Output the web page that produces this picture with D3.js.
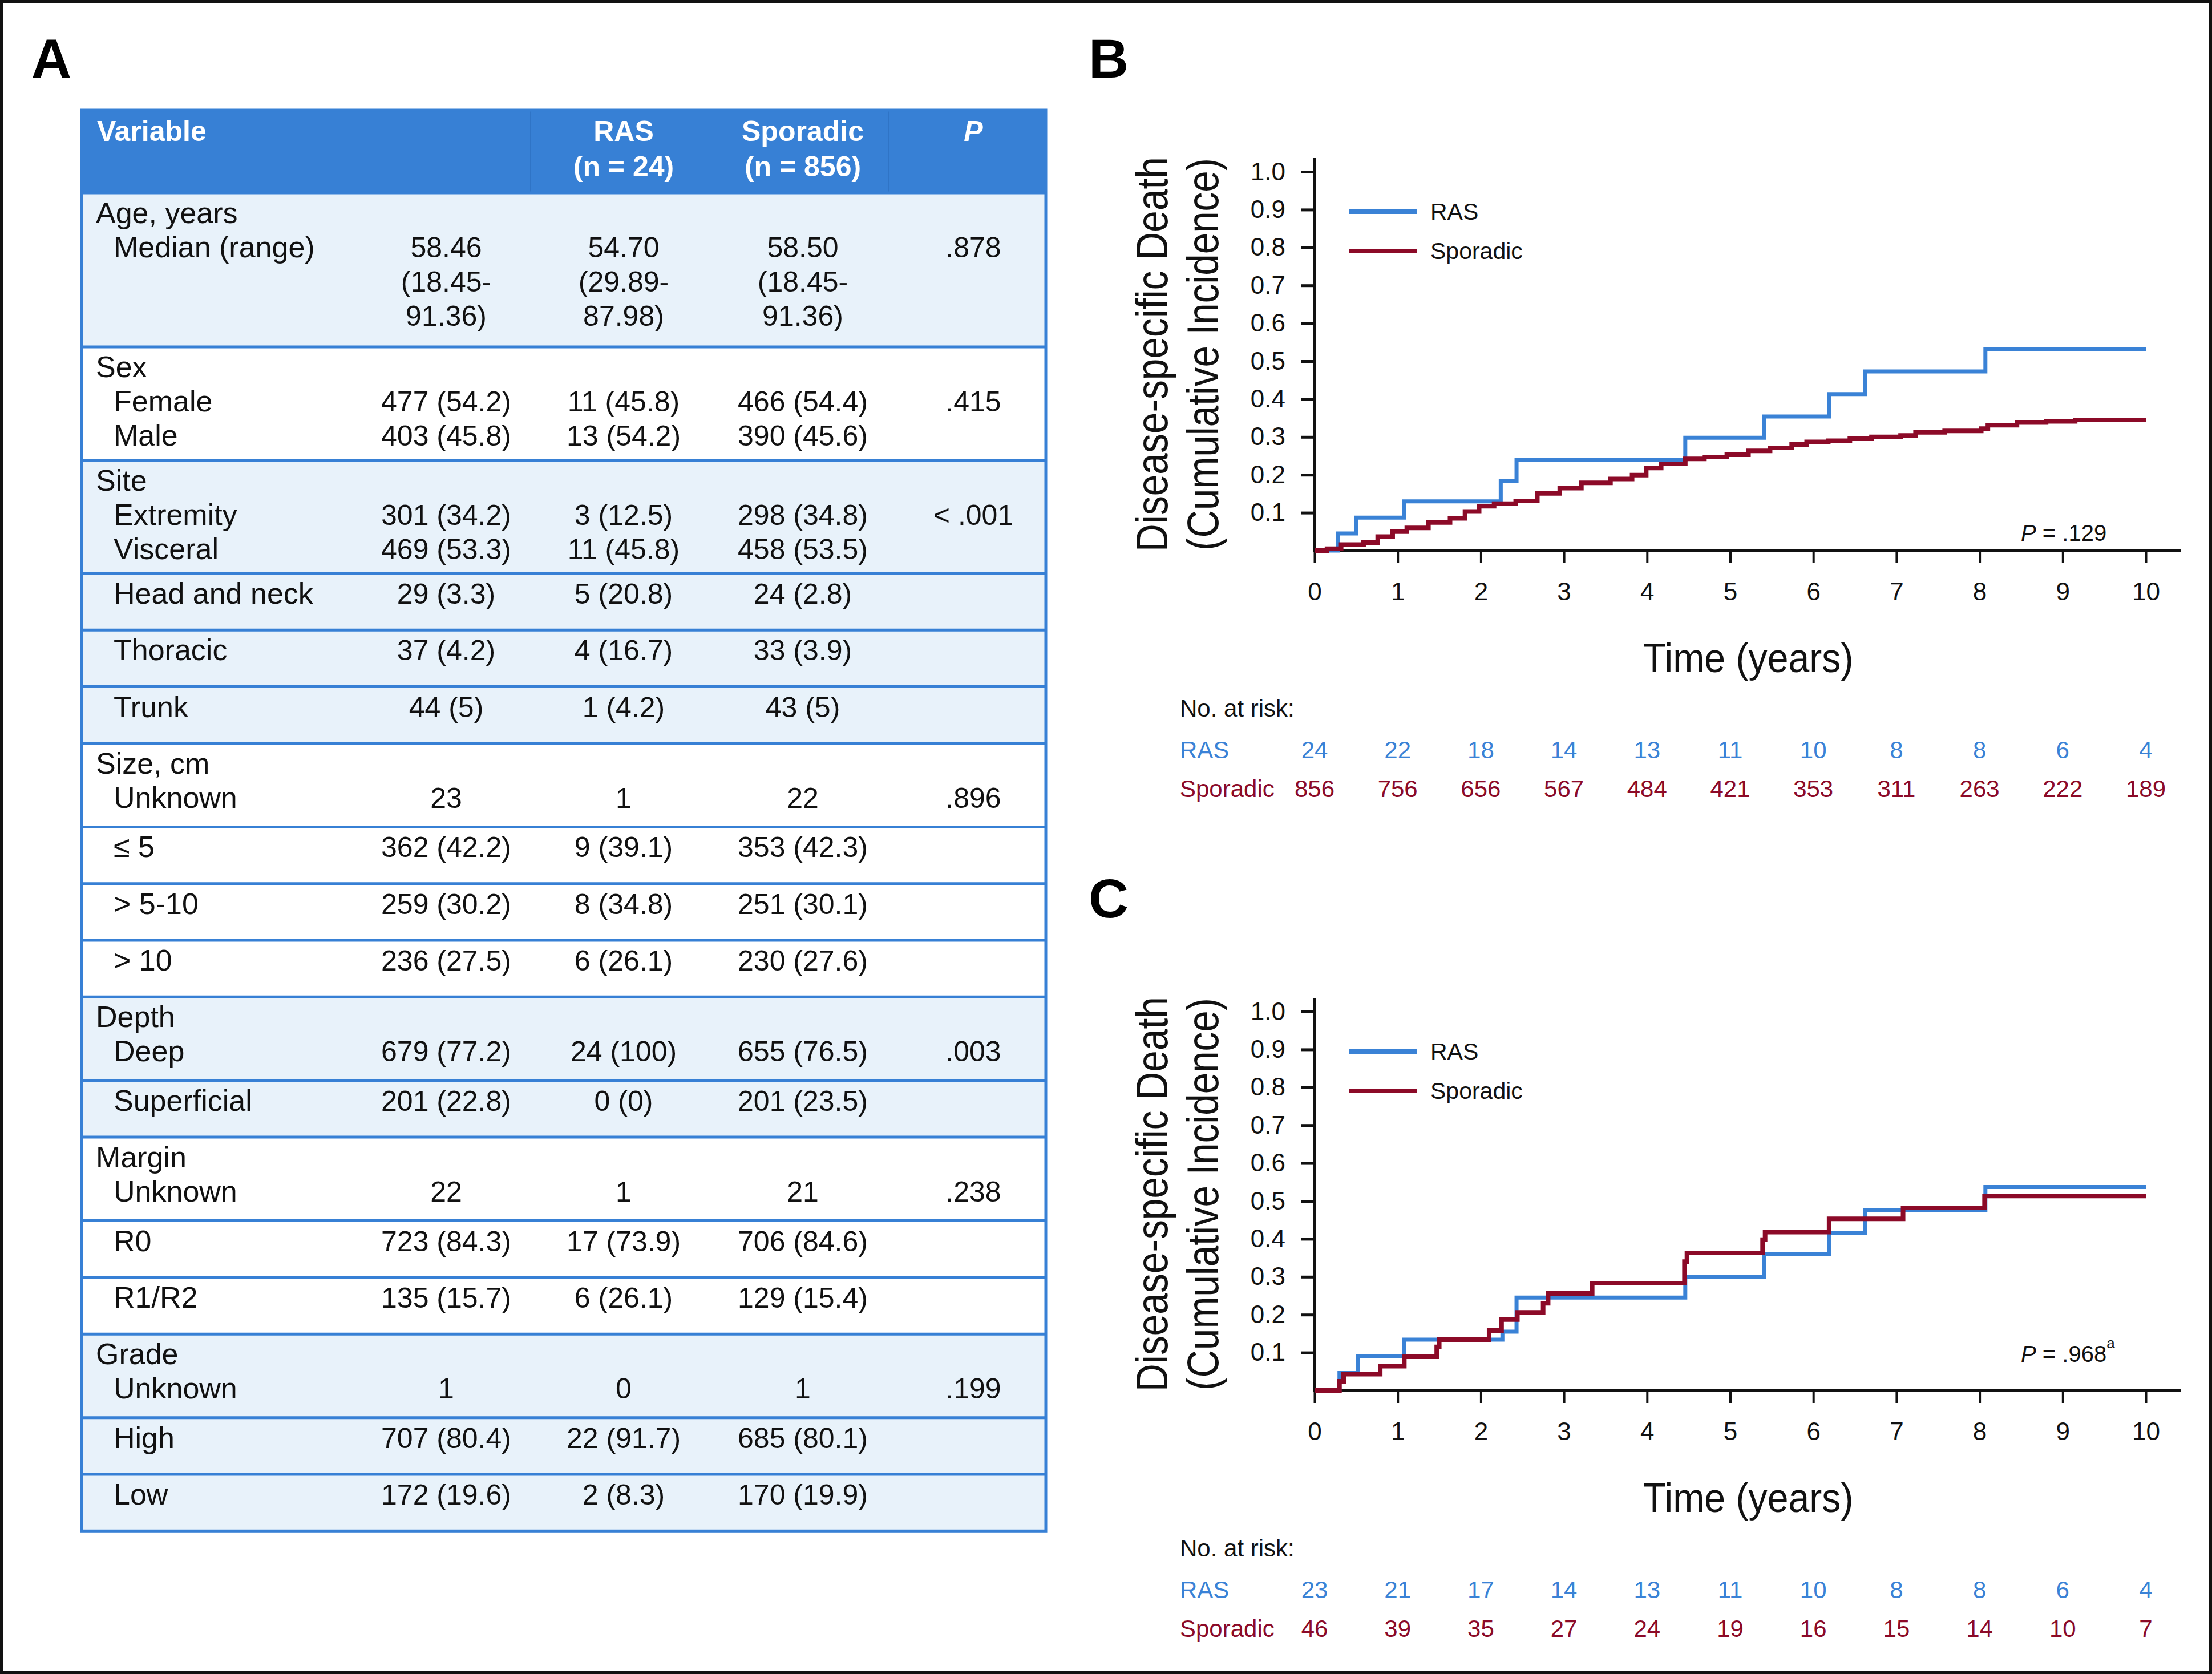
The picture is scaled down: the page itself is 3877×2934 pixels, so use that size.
<!DOCTYPE html>
<html>
<head>
    <meta charset="utf-8">
    <title>RAS vs sporadic sarcoma</title>
    <script src="https://d3js.org/d3.v7.min.js"></script>
</head>
<style>
    body { margin: 0; background: #fff; }
    text { font-family: "Liberation Sans", Arial, Helvetica, sans-serif; }
    .axis text { font-size: 44px; fill: #111; }
</style>
<body>
<script>

    // ---- table data (panel A) ----
    // leading spaces mark an indented sub-label
    var headerCols = [["RAS", "(n = 24)"], ["Sporadic", "(n = 856)"], ["P", ""]];

    var tableLabels = [
        ["Age, years", "  Median (range)"],
        ["Sex", "  Female", "  Male"],
        ["Site", "  Extremity", "  Visceral"],
        ["  Head and neck"],
        ["  Thoracic"],
        ["  Trunk"],
        ["Size, cm", "  Unknown"],
        ["  \u2264 5"],
        ["  > 5-10"],
        ["  > 10"],
        ["Depth", "  Deep"],
        ["  Superficial"],
        ["Margin", "  Unknown"],
        ["  R0"],
        ["  R1/R2"],
        ["Grade", "  Unknown"],
        ["  High"],
        ["  Low"]
    ];
    var overallCol = [
        ["", "58.46", "(18.45-", "91.36)"],
        ["", "477 (54.2)", "403 (45.8)"],
        ["", "301 (34.2)", "469 (53.3)"],
        ["29 (3.3)"], ["37 (4.2)"], ["44 (5)"],
        ["", "23"], ["362 (42.2)"], ["259 (30.2)"], ["236 (27.5)"],
        ["", "679 (77.2)"], ["201 (22.8)"],
        ["", "22"], ["723 (84.3)"], ["135 (15.7)"],
        ["", "1"], ["707 (80.4)"], ["172 (19.6)"]
    ];
    var rasCol = [
        ["", "54.70", "(29.89-", "87.98)"],
        ["", "11 (45.8)", "13 (54.2)"],
        ["", "3 (12.5)", "11 (45.8)"],
        ["5 (20.8)"], ["4 (16.7)"], ["1 (4.2)"],
        ["", "1"], ["9 (39.1)"], ["8 (34.8)"], ["6 (26.1)"],
        ["", "24 (100)"], ["0 (0)"],
        ["", "1"], ["17 (73.9)"], ["6 (26.1)"],
        ["", "0"], ["22 (91.7)"], ["2 (8.3)"]
    ];
    var sporadicCol = [
        ["", "58.50", "(18.45-", "91.36)"],
        ["", "466 (54.4)", "390 (45.6)"],
        ["", "298 (34.8)", "458 (53.5)"],
        ["24 (2.8)"], ["33 (3.9)"], ["43 (5)"],
        ["", "22"], ["353 (42.3)"], ["251 (30.1)"], ["230 (27.6)"],
        ["", "655 (76.5)"], ["201 (23.5)"],
        ["", "21"], ["706 (84.6)"], ["129 (15.4)"],
        ["", "1"], ["685 (80.1)"], ["170 (19.9)"]
    ];
    var pCol = [
        ["", ".878"], ["", ".415"], ["", "< .001"], [], [], [],
        ["", ".896"], [], [], [],
        ["", ".003"], [],
        ["", ".238"], [], [],
        ["", ".199"], [], []
    ];

    // ---- curve data (panels B, C): [years, cumulative incidence] ----
    var yearTicks = [0, 1, 2, 3, 4, 5, 6, 7, 8, 9, 10];
    var incidenceTicks = [0.1, 0.2, 0.3, 0.4, 0.5, 0.6, 0.7, 0.8, 0.9, 1.0];

    var rasB = [[0, 0], [0.28, 0.045], [0.5, 0.087], [1.08, 0.13], [2.24, 0.183], [2.43, 0.24],
        [4.46, 0.298], [5.41, 0.354], [6.19, 0.413], [6.62, 0.473], [8.07, 0.531], [10, 0.531]];
    var sporadicB = [[0, 0], [0.15, 0.005], [0.32, 0.016], [0.59, 0.021], [0.76, 0.037], [0.94, 0.05],
        [1.11, 0.06], [1.37, 0.074], [1.63, 0.085], [1.81, 0.103], [1.98, 0.117], [2.16, 0.124],
        [2.42, 0.131], [2.68, 0.151], [2.95, 0.165], [3.21, 0.179], [3.56, 0.189], [3.82, 0.199],
        [3.99, 0.218], [4.17, 0.229], [4.46, 0.242], [4.69, 0.247], [4.96, 0.253], [5.22, 0.263],
        [5.48, 0.271], [5.74, 0.28], [5.92, 0.287], [6.18, 0.29], [6.44, 0.295], [6.7, 0.3],
        [7.05, 0.304], [7.23, 0.312], [7.58, 0.316], [8.02, 0.322], [8.1, 0.331], [8.45, 0.338],
        [8.8, 0.341], [9.15, 0.345], [10, 0.345]];
    var rasC = [[0, 0], [0.3, 0.046], [0.52, 0.091], [1.08, 0.134], [2.26, 0.155], [2.43, 0.245],
        [4.46, 0.3], [5.41, 0.359], [6.19, 0.415], [6.62, 0.475], [8.07, 0.537], [10, 0.537]];
    var sporadicC = [[0, 0], [0.3, 0.024], [0.35, 0.043], [0.79, 0.064], [1.08, 0.089], [1.47, 0.115],
        [1.5, 0.134], [2.1, 0.158], [2.25, 0.187], [2.44, 0.206], [2.75, 0.23], [2.81, 0.256],
        [3.34, 0.283], [4.45, 0.34], [4.48, 0.363], [5.39, 0.398], [5.42, 0.418], [6.19, 0.453],
        [7.08, 0.482], [8.06, 0.513], [10, 0.513]];

    var riskRasB = [24, 22, 18, 14, 13, 11, 10, 8, 8, 6, 4];
    var riskSporadicB = [856, 756, 656, 567, 484, 421, 353, 311, 263, 222, 189];
    var riskRasC = [23, 21, 17, 14, 13, 11, 10, 8, 8, 6, 4];
    var riskSporadicC = [46, 39, 35, 27, 24, 19, 16, 15, 14, 10, 7];

    var blue = "#3a82d6", red = "#8c0a28", tableBlue = "#3780d5", rowFill = "#e8f2fa";

    var svg = d3.select("body").append("svg")
        .attr("width", 3877)
        .attr("height", 2934);

    svg.append("rect").attr("width", 3877).attr("height", 2934).attr("fill", "#fff");

    // panel letters
    svg.selectAll("text.panel")
        .data([["A", 55, 136], ["B", 1908, 136], ["C", 1908, 1608]])
        .enter().append("text")
        .attr("class", "panel")
        .attr("x", function(d) { return d[1]; })
        .attr("y", function(d) { return d[2]; })
        .attr("font-size", 97).attr("font-weight", "bold")
        .text(function(d) { return d[0]; });

    // ================= Panel A : table =================
    var tLeft = 143, tRight = 1833, tTop = 193, headBottom = 338;
    var colX = [782, 1093, 1407, 1706];
    var rowH = {1: 99.3, 2: 146.5, 3: 198.5, 4: 270};
    var lineGap = 60;

    // work out row tops and shading from the labels
    var rows = [], y0 = headBottom, group = -1;
    tableLabels.forEach(function(lab, i) {
        if (lab[0].indexOf("  ") !== 0) group++;
        var n = Math.max(lab.length, overallCol[i].length, rasCol[i].length, sporadicCol[i].length, pCol[i].length);
        rows.push({i: i, top: y0, h: rowH[n], shade: group % 2 === 0});
        y0 += rowH[n];
    });
    var tBottom = y0;

    var table = svg.append("g");

    table.append("rect")
        .attr("x", tLeft).attr("y", tTop)
        .attr("width", tRight - tLeft).attr("height", headBottom - tTop)
        .attr("fill", tableBlue);

    table.selectAll("rect.row")
        .data(rows)
        .enter().append("rect")
        .attr("class", "row")
        .attr("x", tLeft).attr("y", function(d) { return d.top; })
        .attr("width", tRight - tLeft).attr("height", function(d) { return d.h; })
        .attr("fill", function(d) { return d.shade ? rowFill : "#fff"; });

    // faint column dividers
    [930, 1557].forEach(function(x) {
        table.append("line")
            .attr("x1", x).attr("x2", x).attr("y1", tTop).attr("y2", headBottom)
            .attr("stroke", "#2f74c6").attr("stroke-width", 2);
    });

    // blue rules between rows
    table.selectAll("line.rule")
        .data(rows)
        .enter().append("line")
        .attr("class", "rule")
        .attr("x1", tLeft).attr("x2", tRight)
        .attr("y1", function(d) { return d.top; })
        .attr("y2", function(d) { return d.top; })
        .attr("stroke", tableBlue).attr("stroke-width", 5);

    table.append("rect")
        .attr("x", tLeft).attr("y", tTop)
        .attr("width", tRight - tLeft).attr("height", tBottom - tTop)
        .attr("fill", "none").attr("stroke", tableBlue).attr("stroke-width", 5);

    // header text
    table.append("text")
        .attr("x", 170).attr("y", 247)
        .attr("fill", "#fff").attr("font-size", 50).attr("font-weight", "bold")
        .text("Variable");
    headerCols.forEach(function(h, j) {
        h.forEach(function(s, k) {
            table.append("text")
                .attr("x", colX[j + 1]).attr("y", 247 + k * 62)
                .attr("text-anchor", "middle")
                .attr("fill", "#fff").attr("font-size", 50).attr("font-weight", "bold")
                .attr("font-style", s === "P" ? "italic" : "normal")
                .text(s);
        });
    });

    // body text
    rows.forEach(function(r) {
        var base = r.top + 53;
        tableLabels[r.i].forEach(function(s, k) {
            var indent = s.indexOf("  ") === 0;
            table.append("text")
                .attr("x", indent ? 199 : 168).attr("y", base + k * lineGap)
                .attr("font-size", 52).attr("fill", "#111")
                .text(s.trim());
        });
        [overallCol, rasCol, sporadicCol, pCol].forEach(function(col, j) {
            col[r.i].forEach(function(s, k) {
                if (!s) return;
                table.append("text")
                    .attr("x", colX[j]).attr("y", base + k * lineGap)
                    .attr("text-anchor", "middle")
                    .attr("font-size", 50).attr("fill", "#111")
                    .text(s);
            });
        });
    });

    // ================= Panels B and C =================
    function drawPanel(dy, rasPts, sporPts, riskRas, riskSpor, pText, pSup, pBase) {
        var g = svg.append("g").attr("transform", "translate(0," + dy + ")");

        var x = d3.scaleLinear().domain([0, 10]).range([2304, 3761]);
        var y = d3.scaleLinear().domain([0, 1]).range([965, 301]);

        // y axis
        var yAxis = g.append("g")
            .attr("class", "axis")
            .attr("transform", "translate(" + x(0) + ",0)")
            .call(d3.axisLeft(y).tickValues(incidenceTicks).tickFormat(d3.format(".1f"))
                .tickSize(24).tickPadding(27));
        yAxis.select(".domain").remove();
        yAxis.selectAll(".tick line").attr("stroke", "#111").attr("stroke-width", 5);

        // x axis
        var xAxis = g.append("g")
            .attr("class", "axis")
            .attr("transform", "translate(0," + y(0) + ")")
            .call(d3.axisBottom(x).tickValues(yearTicks).tickFormat(d3.format("d"))
                .tickSize(22).tickPadding(34));
        xAxis.select(".domain").remove();
        xAxis.selectAll(".tick line").attr("stroke", "#111").attr("stroke-width", 4);

        g.append("line")
            .attr("x1", x(0)).attr("x2", x(0)).attr("y1", y(0) + 2).attr("y2", y(1) - 24)
            .attr("stroke", "#111").attr("stroke-width", 6);
        g.append("line")
            .attr("x1", x(0) - 3).attr("x2", x(10) + 61).attr("y1", y(0)).attr("y2", y(0))
            .attr("stroke", "#111").attr("stroke-width", 5);

        // curves
        var line = d3.line()
            .x(function(d) { return x(d[0]); })
            .y(function(d) { return y(d[1]); })
            .curve(d3.curveStepAfter);

        g.append("path").datum(rasPts)
            .attr("d", line).attr("fill", "none")
            .attr("stroke", blue).attr("stroke-width", 7);
        g.append("path").datum(sporPts)
            .attr("d", line).attr("fill", "none")
            .attr("stroke", red).attr("stroke-width", 8);

        // legend
        [["RAS", blue, 371], ["Sporadic", red, 440]].forEach(function(l) {
            g.append("line")
                .attr("x1", 2364).attr("x2", 2483).attr("y1", l[2]).attr("y2", l[2])
                .attr("stroke", l[1]).attr("stroke-width", 8);
            g.append("text")
                .attr("x", 2507).attr("y", l[2] + 14)
                .attr("font-size", 41).attr("fill", "#111")
                .text(l[0]);
        });

        // P value
        var p = g.append("text")
            .attr("x", 3542).attr("y", pBase - dy)
            .attr("font-size", 40).attr("fill", "#111");
        p.append("tspan").attr("font-style", "italic").text("P");
        p.append("tspan").text(" = " + pText);
        if (pSup) p.append("tspan").attr("dy", -24).attr("font-size", 26).text(pSup);

        // axis titles
        var yt = g.append("g").attr("transform", "translate(0,621)");
        [["Disease-specific Death", 2046, 692], ["(Cumulative Incidence)", 2135, 688]].forEach(function(t) {
            yt.append("text")
                .attr("transform", "translate(" + t[1] + ",0) rotate(-90)")
                .attr("text-anchor", "middle")
                .attr("font-size", 78).attr("fill", "#111")
                .attr("textLength", t[2]).attr("lengthAdjust", "spacingAndGlyphs")
                .text(t[0]);
        });
        g.append("text")
            .attr("x", 3064).attr("y", 1178)
            .attr("text-anchor", "middle")
            .attr("font-size", 72).attr("fill", "#111")
            .attr("textLength", 369).attr("lengthAdjust", "spacingAndGlyphs")
            .text("Time (years)");

        // numbers at risk
        g.append("text")
            .attr("x", 2068).attr("y", 1256)
            .attr("font-size", 42).attr("fill", "#111")
            .text("No. at risk:");
        [["RAS", riskRas, blue, 1329], ["Sporadic", riskSpor, red, 1397]].forEach(function(r) {
            g.append("text")
                .attr("x", 2068).attr("y", r[3])
                .attr("font-size", 42).attr("fill", r[2])
                .text(r[0]);
            g.selectAll(null)
                .data(r[1])
                .enter().append("text")
                .attr("x", function(d, i) { return x(yearTicks[i]); })
                .attr("y", r[3])
                .attr("text-anchor", "middle")
                .attr("font-size", 42).attr("fill", r[2])
                .text(function(d) { return d; });
        });
    }

    drawPanel(0, rasB, sporadicB, riskRasB, riskSporadicB, ".129", "", 948);
    drawPanel(1472, rasC, sporadicC, riskRasC, riskSporadicC, ".968", "a", 2387);

    // outer frame
    svg.append("rect")
        .attr("x", 2.5).attr("y", 2.5).attr("width", 3872).attr("height", 2929)
        .attr("fill", "none").attr("stroke", "#111").attr("stroke-width", 5);

</script>
</body>
</html>
